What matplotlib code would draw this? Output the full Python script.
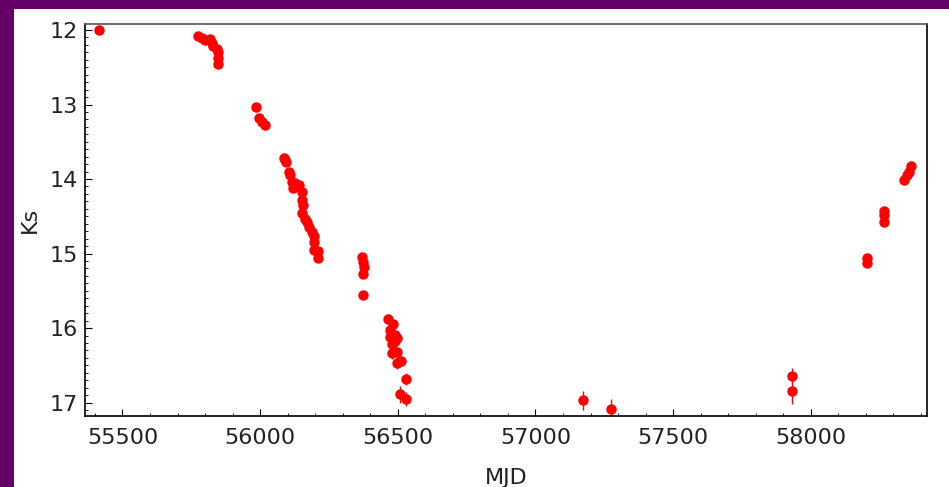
import matplotlib.pyplot as plt
import numpy as np
from matplotlib.patches import Rectangle
from matplotlib.ticker import MultipleLocator

# light curve
mjd = np.array([55415,
                55774, 55788, 55800, 55818, 55825, 55830, 55843, 55846, 55846, 55846,
                55985, 55996, 56006, 56018,
                56085, 56090, 56094, 56106, 56109, 56115, 56121, 56127, 56133, 56143,
                56151, 56151, 56157, 56151, 56163, 56169, 56179, 56188, 56194, 56196,
                56194, 56212, 56212,
                56369, 56375, 56377, 56375, 56373,
                56466, 56484, 56472, 56472, 56490, 56496, 56478, 56490, 56478, 56496,
                56498, 56511, 56530, 56508, 56530,
                57174, 57273,
                57933, 57933,
                58205, 58205, 58266, 58266, 58266,
                58339, 58348, 58355, 58363])
ks = np.array([12.00,
               12.08, 12.11, 12.13, 12.12, 12.18, 12.22, 12.26, 12.29, 12.37, 12.45,
               13.03, 13.18, 13.23, 13.27,
               13.72, 13.74, 13.77, 13.90, 13.95, 14.04, 14.12, 14.06, 14.10, 14.08,
               14.17, 14.28, 14.35, 14.45, 14.53, 14.57, 14.64, 14.71, 14.77, 14.84,
               14.95, 14.97, 15.06,
               15.04, 15.11, 15.18, 15.27, 15.55,
               15.88, 15.94, 16.03, 16.12, 16.09, 16.14, 16.21, 16.18, 16.34, 16.32,
               16.47, 16.44, 16.68, 16.89, 16.95,
               16.97, 17.08,
               16.64, 16.85,
               15.06, 15.13, 14.43, 14.48, 14.57,
               14.01, 13.95, 13.90, 13.83])
ks_err = np.array([0.01,
                   0.01, 0.01, 0.01, 0.01, 0.01, 0.01, 0.01, 0.01, 0.01, 0.01,
                   0.01, 0.01, 0.01, 0.01,
                   0.01, 0.01, 0.01, 0.01, 0.01, 0.01, 0.01, 0.01, 0.01, 0.01,
                   0.01, 0.01, 0.01, 0.01, 0.01, 0.01, 0.01, 0.01, 0.01, 0.01,
                   0.01, 0.01, 0.01,
                   0.02, 0.02, 0.02, 0.02, 0.02,
                   0.07, 0.05, 0.06, 0.06, 0.06, 0.06, 0.07, 0.06, 0.07, 0.07,
                   0.08, 0.07, 0.08, 0.11, 0.09,
                   0.13, 0.13,
                   0.10, 0.17,
                   0.02, 0.02, 0.03, 0.03, 0.03,
                   0.02, 0.02, 0.02, 0.02])

fig = plt.figure(figsize=(9.49, 4.87), dpi=100, facecolor="white")
# purple frame on the left and top
fig.patches.append(Rectangle((0, 0), 14/949, 1, transform=fig.transFigure,
                             facecolor="#660066", edgecolor="none", zorder=-10))
fig.patches.append(Rectangle((0, 1 - 9/487), 1, 9/487, transform=fig.transFigure,
                             facecolor="#660066", edgecolor="none", zorder=-10))

ax = fig.add_axes([85/949, 1 - 416/487, (927 - 85)/949, (416 - 23.5)/487])
ax.errorbar(mjd, ks, yerr=ks_err, fmt="o", color="red", ecolor="red",
            markersize=6.5, elinewidth=1, capsize=0)

ax.set_xlim(55364, 58422)
ax.set_ylim(17.18, 11.913)
ax.xaxis.set_major_locator(MultipleLocator(500))
ax.xaxis.set_minor_locator(MultipleLocator(100))
ax.yaxis.set_major_locator(MultipleLocator(1))
ax.yaxis.set_minor_locator(MultipleLocator(0.1))
ax.tick_params(which="both", direction="in", labelsize=16, colors="black",
               labelcolor="#222222")
ax.tick_params(axis="y", pad=5)
ax.tick_params(axis="x", pad=9)
ax.tick_params(which="major", length=5)
ax.tick_params(which="minor", length=2.5)
for s in ax.spines.values():
    s.set_linewidth(1.2)
    s.set_color("black")
ax.spines["top"].set_color("#555555")

ax.set_xlabel("MJD", fontsize=16, color="#222222", labelpad=14)
ax.set_ylabel("Ks", fontsize=16, color="#222222", labelpad=7)

fig.savefig("out.png", dpi=100)
